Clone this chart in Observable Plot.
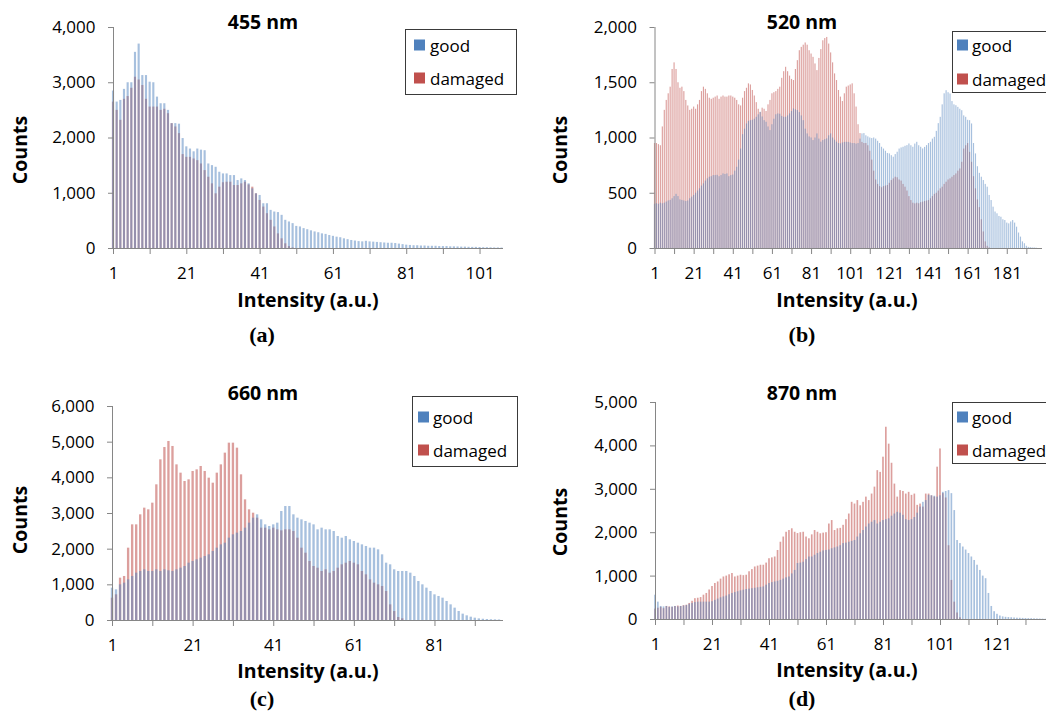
<!DOCTYPE html>
<html><head><meta charset="utf-8">
<script src="https://cdn.jsdelivr.net/npm/d3@7"></script>
<script src="https://cdn.jsdelivr.net/npm/@observablehq/plot@0.6"></script>
<style>
body{margin:0;background:#fff;}
#page{position:relative;width:1046px;height:713px;overflow:hidden;background:#fff;font-family:"Open Sans",sans-serif;color:#000}
.t{position:absolute;transform:translate(-50%,-50%);white-space:nowrap;line-height:1}
.title,.xlab{font-weight:bold;font-size:19.5px}
.ylab{font-weight:bold;font-size:19.5px;transform:translate(-50%,-50%) rotate(-90deg)}
.cap{font-family:"Liberation Serif",serif;font-weight:bold;font-size:22px}
.legend{position:absolute;border:1px solid #3a3a3a;background:#fff;box-sizing:border-box}
.item{position:absolute;font-size:17px;line-height:1;transform:translateY(-50%);white-space:nowrap}
.sw{position:absolute;width:11px;height:11px;transform:translateY(-50%)}
.plot{position:absolute}
</style>
</head><body>
<div id="page"></div>
<script>
// ---------- data ----------
const titles = ["455 nm", "520 nm", "660 nm", "870 nm"];
const captions = ["(a)", "(b)", "(c)", "(d)"];
const seriesNames = ["good", "damaged"];
const yLabel = "Counts";
const xLabel = "Intensity (a.u.)";

const yTicksA = [0, 1000, 2000, 3000, 4000];
const yTicksB = [0, 500, 1000, 1500, 2000];
const yTicksC = [0, 1000, 2000, 3000, 4000, 5000, 6000];
const yTicksD = [0, 1000, 2000, 3000, 4000, 5000];
const xLabelsA = [1, 21, 41, 61, 81, 101];
const xLabelsB = [1, 21, 41, 61, 81, 101, 121, 141, 161, 181];
const xLabelsC = [1, 21, 41, 61, 81];
const xLabelsD = [1, 21, 41, 61, 81, 101, 121];

// counts per intensity bin (bin 1, 2, 3, ...)
const goodA = [2850,2650,2680,2880,3000,3000,3550,3700,3130,3130,
3010,3000,2740,2620,2620,2500,2260,2260,2250,1990,
1840,1800,1750,1800,1780,1770,1530,1500,1470,1380,
1350,1350,1320,1320,1230,1260,1230,1170,1080,990,
960,810,810,690,660,650,600,510,480,450,
400,390,360,340,320,300,285,265,255,235,
220,205,195,175,160,145,135,125,120,130,
120,115,110,105,100,95,95,90,80,70,
60,55,50,50,45,45,40,40,40,35,
35,35,30,30,28,25,25,22,20,20,
18,15,15,12,10,10,8];
const damagedA = [2650,2500,2320,2700,2750,2900,3100,3050,2950,2700,
2560,2560,2560,2500,2520,2440,2260,2200,2080,1700,
1650,1650,1620,1590,1530,1410,1290,1170,990,1110,
1190,1200,1200,1140,1140,1170,1200,1150,1110,990,
870,750,630,510,390,265,175,85,35,10];

const goodB = [400,405,400,410,405,410,420,430,435,450,
470,490,470,440,435,430,425,430,450,465,
480,500,520,540,565,585,610,630,645,650,
660,660,662,650,660,675,670,675,650,660,
665,700,735,800,900,1030,1080,1127,1150,1157,
1160,1170,1187,1210,1233,1190,1157,1142,1100,1067,
1120,1170,1210,1218,1215,1195,1187,1187,1200,1218,
1240,1263,1255,1248,1230,1200,1157,1080,1037,1010,
1000,977,1000,1037,990,962,977,985,992,1020,
1037,1000,980,962,950,947,955,960,961,960,
955,950,950,945,950,990,1037,1040,1020,1010,
1000,995,1000,990,970,950,916,900,880,860,
856,840,826,850,871,900,910,916,925,931,
946,930,916,945,961,930,916,901,915,931,
950,961,990,1006,1060,1130,1187,1300,1400,1428,
1410,1398,1330,1300,1292,1277,1260,1247,1200,1187,
1160,1157,1127,950,856,740,680,645,615,580,
555,480,434,374,330,314,290,283,260,253,
230,223,240,253,230,193,140,103,60,43,
20,10,8,5,5,3];
const damagedB = [950,950,940,930,1100,1250,1340,1400,1460,1620,
1680,1620,1500,1450,1460,1420,1340,1290,1250,1260,
1280,1260,1300,1340,1420,1460,1440,1400,1360,1350,
1360,1370,1380,1350,1370,1380,1370,1370,1380,1380,
1370,1360,1340,1300,1290,1360,1420,1450,1490,1480,
1430,1380,1320,1260,1230,1270,1260,1240,1300,1340,
1400,1410,1420,1440,1460,1540,1600,1640,1600,1560,
1530,1520,1620,1700,1790,1820,1840,1860,1840,1790,
1760,1730,1670,1610,1720,1800,1880,1900,1910,1850,
1770,1680,1580,1520,1430,1370,1330,1400,1460,1470,
1480,1490,1400,1280,1120,1040,960,950,950,930,
880,800,700,620,580,560,550,560,565,570,
590,615,630,645,640,620,610,580,555,520,
470,434,410,404,410,405,415,420,425,430,
434,450,470,490,500,520,540,555,580,600,
620,630,645,660,675,700,720,780,900,930,
950,870,780,650,540,440,370,260,150,60,20,5];

const goodC = [907,860,1000,1047,1140,1234,1327,1374,1421,1374,
1374,1421,1374,1421,1393,1374,1421,1467,1514,1607,
1654,1701,1748,1794,1841,1935,2028,2121,2168,2308,
2402,2449,2495,2589,2729,2869,2963,2822,2682,2636,
2682,2729,3056,3196,3196,2963,2869,2822,2776,2729,
2682,2542,2589,2542,2542,2495,2355,2308,2355,2262,
2215,2168,2121,2075,2028,2028,1981,1841,1607,1561,
1421,1374,1374,1374,1327,1234,1093,1000,907,813,
720,673,626,533,439,346,252,178,131,93,
65,45,35,28,22,18,15];
const damagedC = [626,720,1187,1234,2028,2682,2682,2963,3150,3103,
3290,3804,4505,4850,5019,4879,4364,4131,3897,3944,
4178,4224,4318,4178,3991,3850,4131,4364,4692,4972,
4972,4832,4084,3383,3103,3009,2869,2589,2589,2542,
2589,2542,2514,2542,2542,2495,2308,2028,1887,1654,
1514,1467,1374,1421,1327,1374,1467,1561,1607,1654,
1607,1561,1374,1280,1140,1047,1000,953,813,439,
252,84,47];

const goodD = [560,400,300,290,300,280,290,300,290,300,
310,320,350,370,390,400,400,400,400,400,
410,440,470,500,520,540,570,600,620,640,
660,675,690,700,710,720,730,740,750,790,
830,850,865,880,900,930,960,980,1050,1130,
1290,1300,1320,1380,1440,1440,1480,1520,1550,1580,
1590,1600,1630,1650,1670,1700,1750,1760,1780,1800,
1820,1900,1975,2050,2130,2200,2240,2280,2200,2240,
2280,2300,2320,2380,2430,2470,2450,2400,2300,2280,
2300,2350,2450,2590,2700,2740,2860,2850,2840,2820,
2850,2930,2950,2970,2900,2510,1820,1750,1670,1600,
1520,1440,1360,1250,1130,1000,940,600,300,180,
120,80,60,50,45,40,35,30,28,25,
22,20,18,15,12,10,8,5];
const damagedD = [240,260,280,250,300,290,280,300,310,300,
320,330,370,420,480,490,505,560,600,680,
760,830,865,930,980,1000,1030,1060,980,1000,
1020,1010,1020,1100,1150,1210,1230,1250,1250,1300,
1400,1420,1440,1590,1780,1900,2010,2050,2090,2010,
1980,2000,2010,1900,1860,1950,2050,2010,1975,1990,
2000,2200,2280,2050,2090,2100,2170,2300,2430,2700,
2660,2740,2620,2700,2820,2740,2890,3050,3430,3390,
3740,4430,4040,3600,3120,2820,2970,2950,2890,2930,
2860,2890,2630,2660,2590,2890,2890,2850,2820,3510,
3930,2900,2800,1700,900,400,150,40];

// ---------- layout / style ----------
const BLUE = "#4F81BD", RED = "#C0504D", AXIS = "#868686";
const panels = [
  {good: goodA, damaged: damagedA, yTicks: yTicksA, xLabels: xLabelsA, left: 0, top: 0, w: 520, h: 300, ml: 113, mr: 17, mt: 27, mb: 52, xEnd: 107.4,
   title: [263, 22], ylab: [20, 150], xlab: [308, 300], cap: [262, 335], legend: {x: 405, y: 29, w: 112, h: 66, r1: 45, r2: 78, sx: 414, tx: 430}},
  {good: goodB, damaged: damagedB, yTicks: yTicksB, xLabels: xLabelsB, left: 520, top: 0, w: 526, h: 300, ml: 134.5, mr: 4, mt: 27, mb: 52, xEnd: 199,
   title: [802, 22], ylab: [560, 150], xlab: [847, 300], cap: [802, 335], legend: {x: 952, y: 31, w: 110, h: 62, r1: 45, r2: 79, sx: 957, tx: 972}},
  {good: goodC, damaged: damagedC, yTicks: yTicksC, xLabels: xLabelsC, left: 0, top: 370, w: 520, h: 300, ml: 112, mr: 17, mt: 36, mb: 50, xEnd: 98,
   title: [263, 393], ylab: [20, 520], xlab: [308, 671], cap: [262, 699], legend: {x: 412, y: 396, w: 106, h: 71, r1: 417, r2: 450, sx: 418, tx: 433}},
  {good: goodD, damaged: damagedD, yTicks: yTicksD, xLabels: xLabelsD, left: 520, top: 370, w: 526, h: 300, ml: 135, mr: 0, mt: 32, mb: 51, xEnd: 138.2,
   title: [802, 393], ylab: [560, 522], xlab: [847, 670], cap: [802, 699], legend: {x: 952, y: 402, w: 110, h: 62, r1: 417, r2: 450, sx: 957, tx: 972}}
];

const page = document.getElementById("page");
function addText(cls, txt, pos) {
  const d = document.createElement("div");
  d.className = "t " + cls;
  d.textContent = txt;
  d.style.left = pos[0] + "px";
  d.style.top = pos[1] + "px";
  page.appendChild(d);
}

panels.forEach((p, k) => {
  const hw = 0.29;
  const rows = arr => arr.map((v, i) => ({bin: i + 1, v}));
  const chart = Plot.plot({
    width: p.w, height: p.h,
    marginLeft: p.ml, marginRight: p.mr, marginTop: p.mt, marginBottom: p.mb,
    style: {background: "transparent", fontFamily: "'Open Sans', sans-serif", fontSize: "17px", color: "#000", overflow: "visible"},
    x: {domain: [1, p.xEnd]},
    y: {domain: [0, p.yTicks[p.yTicks.length - 1]]},
    marks: [
      Plot.rect(rows(p.damaged), {x1: d => d.bin - hw, x2: d => d.bin + hw, y1: 0, y2: "v", fill: RED, fillOpacity: 0.55}),
      Plot.rect(rows(p.good), {x1: d => d.bin - hw, x2: d => d.bin + hw, y1: 0, y2: "v", fill: BLUE, fillOpacity: 0.5}),
      Plot.ruleX([1], {y1: 0, y2: p.yTicks[p.yTicks.length - 1], stroke: AXIS}),
      Plot.ruleY([0], {x1: 1, x2: p.xEnd, stroke: AXIS}),
      Plot.axisY({ticks: p.yTicks, tickFormat: d3.format(","), tickSize: 5, tickPadding: 13, stroke: AXIS, label: null, fontSize: 17}),
      Plot.axisX({ticks: d3.range(1, p.xEnd, 10), tickFormat: d => p.xLabels.includes(d) ? String(d) : "", tickSize: 6, tickPadding: 12, stroke: AXIS, label: null, fontSize: 17})
    ]
  });
  chart.classList.add("plot");
  chart.style.left = p.left + "px";
  chart.style.top = p.top + "px";
  page.appendChild(chart);

  addText("title", titles[k], p.title);
  addText("ylab", yLabel, p.ylab);
  addText("xlab", xLabel, p.xlab);
  addText("cap", captions[k], p.cap);

  const L = p.legend;
  const box = document.createElement("div");
  box.className = "legend";
  Object.assign(box.style, {left: L.x + "px", top: L.y + "px", width: L.w + "px", height: L.h + "px"});
  page.appendChild(box);
  [[seriesNames[0], BLUE, L.r1], [seriesNames[1], RED, L.r2]].forEach(([name, col, yy]) => {
    const sw = document.createElement("div");
    sw.className = "sw";
    Object.assign(sw.style, {left: L.sx + "px", top: yy + "px", background: col});
    page.appendChild(sw);
    const it = document.createElement("div");
    it.className = "item";
    it.textContent = name;
    Object.assign(it.style, {left: L.tx + "px", top: yy + "px"});
    page.appendChild(it);
  });
});
</script>
</body></html>
